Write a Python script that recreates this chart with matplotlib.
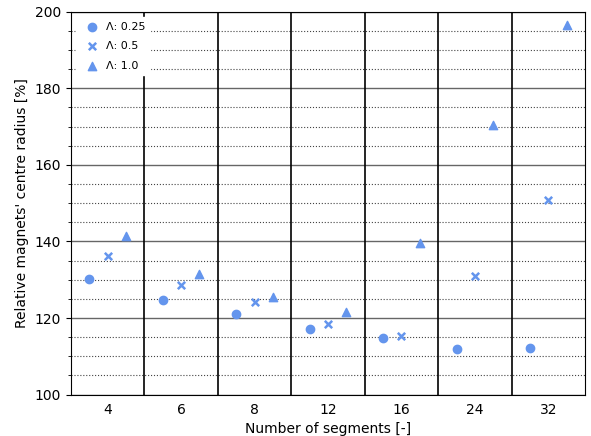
import matplotlib.pyplot as plt
import numpy as np
from matplotlib.ticker import MultipleLocator

segments = ['4', '6', '8', '12', '16', '24', '32']
lam_025 = [130.3, 124.6, 121.1, 117.1, 114.8, 111.9, 112.1]
lam_05 = [136.1, 128.5, 124.2, 118.5, 115.4, 130.9, 150.9]
lam_10 = [141.5, 131.4, 125.6, 121.6, 139.6, 170.5, 196.6]

c = '#6495ED'
x = np.arange(len(segments))

fig, ax = plt.subplots(figsize=(5.91, 4.36), dpi=100)

ax.yaxis.set_major_locator(MultipleLocator(20))
ax.yaxis.set_minor_locator(MultipleLocator(5))
ax.grid(which='major', axis='y', color='#666666', linestyle='-', linewidth=1.0)
ax.grid(which='minor', axis='y', color='#444444', linestyle=':', linewidth=0.8)
ax.set_axisbelow(True)

for i in range(len(segments) - 1):
    ax.axvline(i + 0.5, color='black', linewidth=1.2, zorder=1)

ax.scatter(x - 0.25, lam_025, marker='o', color=c, s=36, label='Λ: 0.25', zorder=3)
ax.scatter(x, lam_05, marker='x', color=c, s=28, linewidths=1.8, label='Λ: 0.5', zorder=3)
ax.scatter(x + 0.25, lam_10, marker='^', color=c, s=36, label='Λ: 1.0', zorder=3)

ax.set_xlim(-0.5, len(segments) - 0.5)
ax.set_ylim(100, 200)
ax.set_xticks(x)
ax.set_xticklabels(segments)
ax.tick_params(axis='x', length=0, pad=6)
ax.set_xlabel('Number of segments [-]')
ax.set_ylabel("Relative magnets' centre radius [%]")

leg = ax.legend(loc='upper left', fontsize=8, frameon=True, framealpha=1,
                edgecolor='white', fancybox=False, borderaxespad=0.5,
                labelspacing=0.85, handletextpad=0.3)
leg.set_zorder(5)

fig.subplots_adjust(left=0.12, right=0.99, top=0.973, bottom=0.095)
fig.savefig('out.png', dpi=100)
